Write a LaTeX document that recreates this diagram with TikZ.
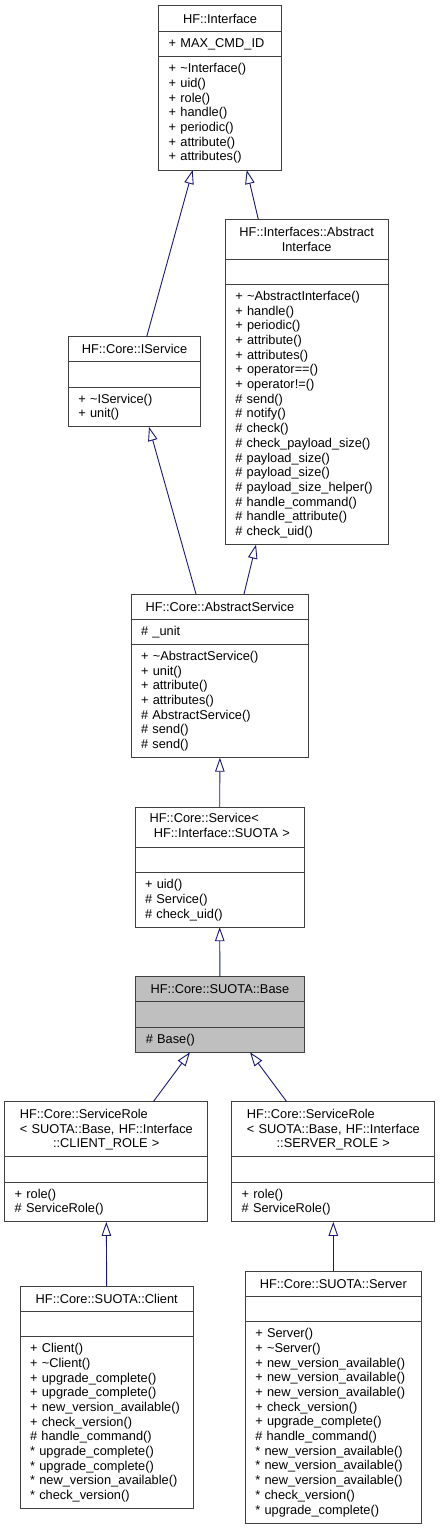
\documentclass[tikz,border=0pt]{standalone}
\usepackage{fontspec}
\setmainfont{Liberation Sans}
\usetikzlibrary{positioning,arrows.meta}
\definecolor{grey25}{HTML}{404040}
\definecolor{grey75}{HTML}{BFBFBF}
\definecolor{midnight}{HTML}{191970}
\begin{document}
\begin{tikzpicture}[x=1pt,y=-1pt,
    sec/.style={draw=grey25,line width=1pt,rectangle,inner xsep=10pt,inner ysep=5pt,
        outer sep=0pt,font=\fontsize{12.8}{14.7}\selectfont,node distance=0pt},
    title/.style={sec,anchor=north,align=center,minimum height=#1},
    attr/.style={sec,align=left,minimum height=25.5pt},
    meth/.style={sec,align=left,minimum height={#1*14.7pt+10.3pt}},
    cur/.style={fill=grey75},
    inh/.style={draw=midnight,line width=0.9pt,-{Triangle[open,length=14pt,width=9.5pt,fill=white]}},
]
\useasboundingbox (0,0) rectangle (440,1529);

% HF::Interface
\node[title=25.6pt,text width=102.7pt] (iface) at (220,5.7) {HF::Interface};
\node[attr,text width=102.7pt,below=of iface] (iface-a) {+ MAX\_CMD\_ID};
\node[meth=7,text width=102.7pt,below=of iface-a] (iface-m) {+ \textasciitilde Interface()\\+ uid()\\+ role()\\+ handle()\\+ periodic()\\+ attribute()\\+ attributes()};

% HF::Interfaces::AbstractInterface
\node[title=39.7pt,text width=142.7pt] (absif) at (306.7,219.3) {HF::Interfaces::Abstract\\Interface};
\node[attr,text width=142.7pt,below=of absif] (absif-a) {};
\node[meth=17,text width=142.7pt,below=of absif-a] (absif-m) {+ \textasciitilde AbstractInterface()\\+ handle()\\+ periodic()\\+ attribute()\\+ attributes()\\+ operator==()\\+ operator!=()\\\# send()\\\# notify()\\\# check()\\\# check\_payload\_size()\\\# payload\_size()\\\# payload\_size()\\\# payload\_size\_helper()\\\# handle\_command()\\\# handle\_attribute()\\\# check\_uid()};

% HF::Core::IService
\node[title=25pt,text width=112.4pt] (iserv) at (134.5,336.7) {HF::Core::IService};
\node[attr,text width=112.4pt,below=of iserv] (iserv-a) {};
\node[meth=2,text width=112.4pt,below=of iserv-a] (iserv-m) {+ \textasciitilde IService()\\+ unit()};

% HF::Core::AbstractService
\node[title=25pt,text width=157.7pt] (abssv) at (219.9,594) {HF::Core::AbstractService};
\node[attr,text width=157.7pt,below=of abssv] (abssv-a) {\# \_unit};
\node[meth=7,text width=157.7pt,below=of abssv-a] (abssv-m) {+ \textasciitilde AbstractService()\\+ unit()\\+ attribute()\\+ attributes()\\\# AbstractService()\\\# send()\\\# send()};

% HF::Core::Service< HF::Interface::SUOTA >
\node[title=40pt,text width=149.3pt] (servc) at (219.7,807.3) {\begin{tabular}{@{}l@{}}HF::Core::Service<\\\ HF::Interface::SUOTA >\end{tabular}};
\node[attr,text width=149.3pt,below=of servc] (servc-a) {};
\node[meth=3,text width=149.3pt,below=of servc-a] (servc-m) {+ uid()\\\# Service()\\\# check\_uid()};

% HF::Core::SUOTA::Base
\node[title=25pt,cur,text width=148.3pt] (base) at (219.9,976.7) {HF::Core::SUOTA::Base};
\node[attr,cur,text width=148.3pt,below=of base] (base-a) {};
\node[meth=1,cur,text width=148.3pt,below=of base-a] (base-m) {\# Base()};

% ServiceRole client / server
\node[title=55pt,text width=183.3pt] (crole) at (106.3,1101.7) {\begin{tabular}{@{}l@{}}HF::Core::ServiceRole\\< SUOTA::Base, HF::Interface\end{tabular}\\::CLIENT\_ROLE >};
\node[attr,text width=183.3pt,below=of crole] (crole-a) {};
\node[meth=2,text width=183.3pt,below=of crole-a] (crole-m) {+ role()\\\# ServiceRole()};

\node[title=55pt,text width=183.3pt] (srole) at (333.3,1101.7) {\begin{tabular}{@{}l@{}}HF::Core::ServiceRole\\< SUOTA::Base, HF::Interface\end{tabular}\\::SERVER\_ROLE >};
\node[attr,text width=183.3pt,below=of srole] (srole-a) {};
\node[meth=2,text width=183.3pt,below=of srole-a] (srole-m) {+ role()\\\# ServiceRole()};

% HF::Core::SUOTA::Client
\node[title=25.3pt,text width=153.3pt] (clnt) at (106.7,1286) {HF::Core::SUOTA::Client};
\node[attr,text width=153.3pt,below=of clnt] (clnt-a) {};
\node[meth=11,text width=153.3pt,below=of clnt-a] (clnt-m) {+ Client()\\+ \textasciitilde Client()\\+ upgrade\_complete()\\+ upgrade\_complete()\\+ new\_version\_available()\\+ check\_version()\\\# handle\_command()\\{}* upgrade\_complete()\\{}* upgrade\_complete()\\{}* new\_version\_available()\\{}* check\_version()};

% HF::Core::SUOTA::Server
\node[title=25pt,text width=156pt] (servr) at (333.3,1271.3) {HF::Core::SUOTA::Server};
\node[attr,text width=156pt,below=of servr] (servr-a) {};
\node[meth=13,text width=156pt,below=of servr-a] (servr-m) {+ Server()\\+ \textasciitilde Server()\\+ new\_version\_available()\\+ new\_version\_available()\\+ new\_version\_available()\\+ check\_version()\\+ upgrade\_complete()\\\# handle\_command()\\{}* new\_version\_available()\\{}* new\_version\_available()\\{}* new\_version\_available()\\{}* check\_version()\\{}* upgrade\_complete()};

% inheritance
\draw[inh] ([xshift=12.2pt]iserv.north) -- ([xshift=-27.3pt]iface-m.south);
\draw[inh] ([xshift=-48.4pt]absif.north) -- ([xshift=26.7pt]iface-m.south);
\draw[inh] ([xshift=-23.9pt]abssv.north) -- ([xshift=14.5pt]iserv-m.south);
\draw[inh] ([xshift=24.1pt]abssv.north) -- ([xshift=-50.7pt]absif-m.south);
\draw[inh] (servc.north) -- (abssv-m.south);
\draw[inh] (base.north) -- (servc-m.south);
\draw[inh] ([xshift=47pt]crole.north) -- ([xshift=-29.9pt]base-m.south);
\draw[inh] ([xshift=-46.6pt]srole.north) -- ([xshift=30.1pt]base-m.south);
\draw[inh] (clnt.north) -- (crole-m.south);
\draw[inh] (servr.north) -- (srole-m.south);
\end{tikzpicture}
\end{document}
